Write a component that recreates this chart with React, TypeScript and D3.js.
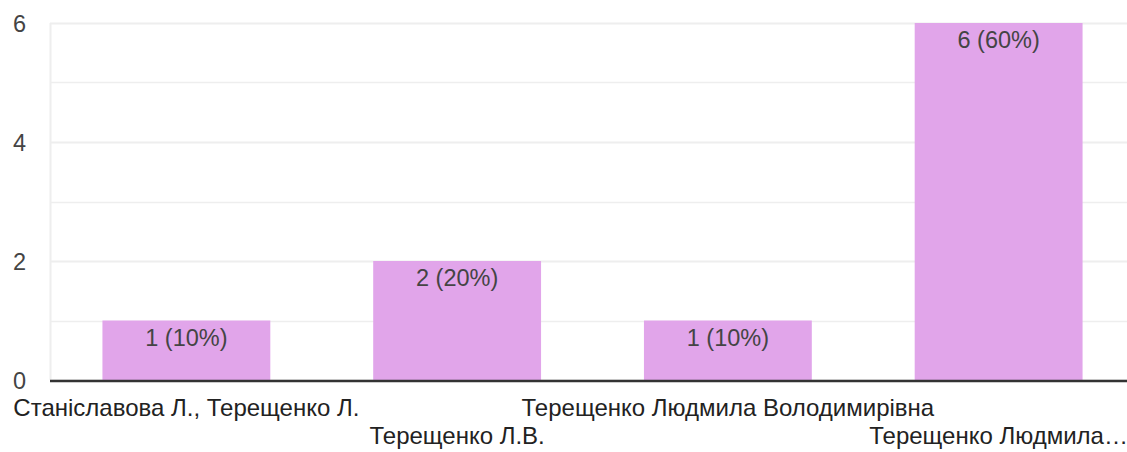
import React from "react";
import * as d3 from "d3";

const categories = [
  "Станіславова Л., Терещенко Л.",
  "Терещенко Л.В.",
  "Терещенко Людмила Володимирівна",
  "Терещенко Людмила…",
];
const values = [1, 2, 1, 6];
const percents = ["10%", "20%", "10%", "60%"];
const yTicks = [0, 2, 4, 6];
const gridTicks = [0, 1, 2, 3, 4, 5, 6];

const W = 1127;
const H = 452;
const FONT = "Arial, 'Liberation Sans', sans-serif";

export default function App() {
  const x = d3
    .scaleBand<string>()
    .domain(categories)
    .range([51, 1134])
    .paddingInner(0.38)
    .paddingOuter(0.19);
  const y = d3.scaleLinear().domain([0, 6]).range([380, 23]);

  return (
    <svg
      width={W}
      height={H}
      style={{ position: "absolute", left: 0, top: 0, background: "#fff" }}
      fontFamily={FONT}
    >
      <line x1={50.5} x2={50.5} y1={y(6)} y2={y(0)} stroke="#eeeeee" strokeWidth={2} />
      {gridTicks.map((t) => (
        <line
          key={t}
          x1={50}
          x2={W}
          y1={Math.round(y(t)) + 0.5}
          y2={Math.round(y(t)) + 0.5}
          stroke="#eeeeee"
          strokeWidth={t % 2 === 0 ? 2 : 1.5}
        />
      ))}
      {yTicks.map((t) => (
        <text
          key={t}
          x={26}
          y={y(t) + 8.5}
          textAnchor="end"
          fontSize={23.5}
          fill="#444"
        >
          {t}
        </text>
      ))}
      {categories.map((c, i) => (
        <g key={c}>
          <rect
            x={x(c)}
            y={y(values[i])}
            width={x.bandwidth()}
            height={y(0) - y(values[i])}
            fill="#e1a5ea"
          />
          <text
            x={(x(c) as number) + x.bandwidth() / 2}
            y={y(values[i]) + 25}
            textAnchor="middle"
            fontSize={23.5}
            fill="#444"
          >
            {`${values[i]} (${percents[i]})`}
          </text>
          <text
            x={(x(c) as number) + x.bandwidth() / 2}
            y={i % 2 === 0 ? 416 : 444}
            textAnchor="middle"
            fontSize={24}
            fill="#222"
          >
            {c}
          </text>
        </g>
      ))}
      <line x1={50} x2={W} y1={381} y2={381} stroke="#333" strokeWidth={2.5} />
    </svg>
  );
}
